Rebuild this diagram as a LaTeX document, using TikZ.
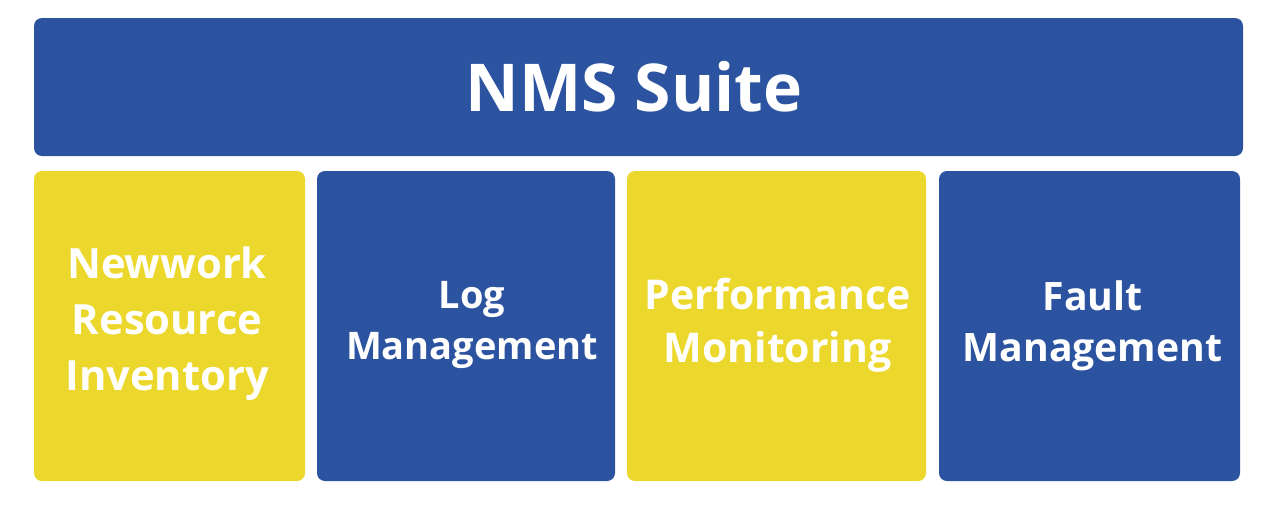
\documentclass[tikz,border=0pt]{standalone}
\usepackage{fontspec}
\setmainfont{Open Sans}[BoldFont={* Bold}]
\definecolor{nmsblue}{HTML}{2C53A0}
\definecolor{nmsyellow}{HTML}{ECD82C}
\begin{document}
\begin{tikzpicture}[x=1pt,y=-1pt,
  box/.style={rounded corners=8pt},
  lbl/.style={text=white,font=\bfseries,align=center,inner sep=0pt}]
\useasboundingbox (0,0) rectangle (1265,507);
\fill[nmsblue,box] (34,18) rectangle (1243,156);
\fill[nmsyellow,box] (34,171) rectangle (305,481);
\fill[nmsblue,box] (317,171) rectangle (615,481);
\fill[nmsyellow,box] (627,171) rectangle (926,481);
\fill[nmsblue,box] (939,171) rectangle (1240,481);
\node[lbl,font=\fontsize{66}{72}\bfseries] (top) at (634,87) {NMS Suite};
\node[lbl,font=\fontsize{41.7}{56}\bfseries] (a) at (167,323.5) {Newwork\\Resource\\Inventory};
\node[lbl,font=\fontsize{38}{51}\bfseries] (b) at (472,325) {Log\\Management};
\node[lbl,font=\fontsize{41}{53}\bfseries] (c) at (777.5,325) {Performance\\Monitoring};
\node[lbl,font=\fontsize{39.2}{51}\bfseries] (d) at (1092.5,325.5) {Fault\\Management};
\end{tikzpicture}
\end{document}
